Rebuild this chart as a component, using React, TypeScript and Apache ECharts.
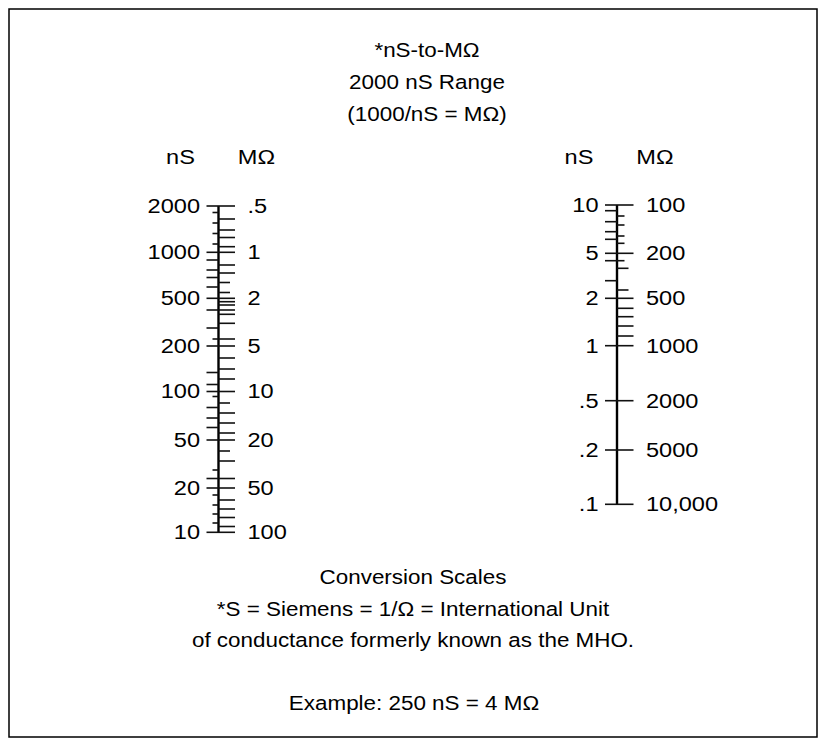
import React, { useEffect, useRef } from "react";
import * as echarts from "echarts";

// ---- DATA ----
// two conversion scales (categories on the x axis)
const scaleNames = ["2000 nS Range (10–2000 nS)", "10 nS Range (0.1–10 nS)"];
const unitHeaders = ["nS", "MΩ"];

// left scale: 2000 nS range
const leftNsLabels = ["2000", "1000", "500", "200", "100", "50", "20", "10"];
const leftMohmLabels = [".5", "1", "2", "5", "10", "20", "50", "100"];
const leftMajorPos = [1, 47.3, 93.3, 141, 186.5, 235, 283, 327.3];
const leftNsMinorShort = [7.5, 18, 28.5, 39, 134, 191.5, 265, 290, 300, 309, 318];
const leftNsMinorLong = [55, 65, 72.5, 82, 105, 123, 167.5, 179.5, 202.5, 213, 222.5, 273.5];
const leftMohmMinorMid = [77.5, 87.5, 198, 246];
const leftMohmMinorLong = [14, 25, 32.5, 41.7, 60, 68, 96.7, 100, 105, 109.3, 118.3, 134, 153, 164, 174, 208, 218, 228, 256, 273.5, 295, 304, 312.5, 321.5];

// right scale: 10 nS range
const rightNsLabels = ["10", "5", "2", "1", ".5", ".2", ".1"];
const rightMohmLabels = ["100", "200", "500", "1000", "2000", "5000", "10,000"];
const rightMajorPos = [0, 48.3, 93.3, 140.7, 195.7, 245, 299.3];
const rightNsMinorLong = [5.7, 16.7, 26.7, 34.3, 55.7, 75.7];
const rightMohmMinorShort = [11, 20, 31, 38.3, 55.7];
const rightMohmMinorMid = [63.3, 85];
const rightMohmMinorLong = [103.3, 111.7, 121, 131];

const titleLines = ["*nS-to-MΩ", "2000 nS Range", "(1000/nS = MΩ)"];
const footerLines = [
  "Conversion Scales",
  "*S = Siemens = 1/Ω = International Unit",
  "of conductance formerly known as the MHO.",
];
const exampleLine = "Example: 250 nS = 4 MΩ";

// ---- STYLE ----
const FONT_FAMILY = '"Liberation Sans", Arial, Helvetica, sans-serif';
const SX = 1.15;
const FONT = `19.5px ${FONT_FAMILY}`;
const LABEL_FONT = `20.5px ${FONT_FAMILY}`;
// tick kinds: full, leftShort, leftLong, rightShort, rightMid, rightLong
const K_FULL = 0, K_LS = 1, K_LL = 2, K_RS = 3, K_RM = 4, K_RL = 5;
const TICK_LEN = [
  [12, 16.5],
  [6, 0],
  [12, 0],
  [0, 7.5],
  [0, 11.5],
  [0, 16.5],
];

type Scale = {
  ns: string[];
  mohm: string[];
  major: number[];
  minors: [number, number[]][];
};

const scales: Scale[] = [
  {
    ns: leftNsLabels,
    mohm: leftMohmLabels,
    major: leftMajorPos,
    minors: [
      [K_LS, leftNsMinorShort],
      [K_LL, leftNsMinorLong],
      [K_RM, leftMohmMinorMid],
      [K_RL, leftMohmMinorLong],
    ],
  },
  {
    ns: rightNsLabels,
    mohm: rightMohmLabels,
    major: rightMajorPos,
    minors: [
      [K_LL, rightNsMinorLong],
      [K_RS, rightMohmMinorShort],
      [K_RM, rightMohmMinorMid],
      [K_RL, rightMohmMinorLong],
    ],
  },
];

export default function App() {
  const ref = useRef<HTMLDivElement>(null);

  useEffect(() => {
    if (!ref.current) return;
    const chart = echarts.init(ref.current, undefined, { renderer: "svg" });

    const lineData = scales.map((s, i) => [i, s.major[0], s.major[s.major.length - 1]]);
    const tickData: number[][] = [];
    scales.forEach((s, i) => {
      s.major.forEach((p) => tickData.push([i, p, K_FULL]));
      s.minors.forEach(([k, arr]) => arr.forEach((p) => tickData.push([i, p, k])));
    });

    // label items: side 0 = nS column, 1 = MΩ column, 2/3 = headers
    const labelItems: { s: number; pos: number; side: number; text: string }[] = [];
    scales.forEach((s, i) => {
      s.major.forEach((p, j) => {
        labelItems.push({ s: i, pos: p, side: 0, text: s.ns[j] });
        labelItems.push({ s: i, pos: p, side: 1, text: s.mohm[j] });
      });
      labelItems.push({ s: i, pos: -48, side: 2, text: unitHeaders[0] });
      labelItems.push({ s: i, pos: -48, side: 3, text: unitHeaders[1] });
    });

    const textEl = (x: number, y: number, text: string, align: string, font = FONT) => ({
      type: "text",
      x,
      y,
      scaleX: SX,
      style: {
        text,
        font,
        fill: "#000",
        align,
        textAlign: align,
        verticalAlign: "middle",
        textVerticalAlign: "middle",
      },
    });

    const titleY = [50, 82, 114];
    const footerY = [577, 609, 640];

    chart.setOption({
      animation: false,
      backgroundColor: "#fff",
      grid: { left: 19.25, width: 797, top: 205, height: 330 },
      xAxis: { type: "category", data: scaleNames, show: false, boundaryGap: true },
      yAxis: { type: "value", min: 0, max: 330, inverse: true, show: false },
      graphic: [
        {
          type: "rect",
          shape: { x: 9, y: 9, width: 808, height: 728 },
          style: { fill: "none", stroke: "#000", lineWidth: 1.5 },
          silent: true,
        },
        ...titleLines.map((t, i) => textEl(427, titleY[i], t, "center")),
        ...footerLines.map((t, i) => textEl(413, footerY[i], t, "center")),
        textEl(414, 703, exampleLine, "center"),
      ],
      series: [
        {
          type: "custom",
          name: "scale line",
          data: lineData,
          encode: { x: 0, y: [1, 2] },
          renderItem: (params: any, api: any) => {
            const a = api.coord([api.value(0), api.value(1)]);
            const b = api.coord([api.value(0), api.value(2)]);
            return {
              type: "line",
              shape: { x1: a[0], y1: a[1], x2: b[0], y2: b[1] },
              style: { stroke: "#000", lineWidth: 2.4 },
            };
          },
        },
        {
          type: "custom",
          name: "ticks",
          data: tickData,
          encode: { x: 0, y: 1 },
          renderItem: (params: any, api: any) => {
            const p = api.coord([api.value(0), api.value(1)]);
            const len = TICK_LEN[api.value(2)];
            return {
              type: "line",
              shape: { x1: p[0] - len[0], y1: p[1], x2: p[0] + len[1], y2: p[1] },
              style: { stroke: "#111", lineWidth: 1.6 },
            };
          },
        },
        {
          type: "custom",
          name: "labels",
          data: labelItems.map((l) => [l.s, l.pos]),
          encode: { x: 0, y: 1 },
          renderItem: (params: any, api: any) => {
            const item = labelItems[params.dataIndex];
            const p = api.coord([item.s, item.pos]);
            if (item.side === 0) return textEl(p[0] - 18.5, p[1], item.text, "right", LABEL_FONT);
            if (item.side === 1) return textEl(p[0] + 29, p[1], item.text, "left", LABEL_FONT);
            if (item.side === 2) return textEl(p[0] - 38, p[1], item.text, "center", LABEL_FONT);
            return textEl(p[0] + 38, p[1], item.text, "center", LABEL_FONT);
          },
        },
      ],
    });

    return () => chart.dispose();
  }, []);

  return (
    <div
      ref={ref}
      style={{ position: "fixed", left: 0, top: 0, width: 826, height: 746, background: "#fff" }}
    />
  );
}
